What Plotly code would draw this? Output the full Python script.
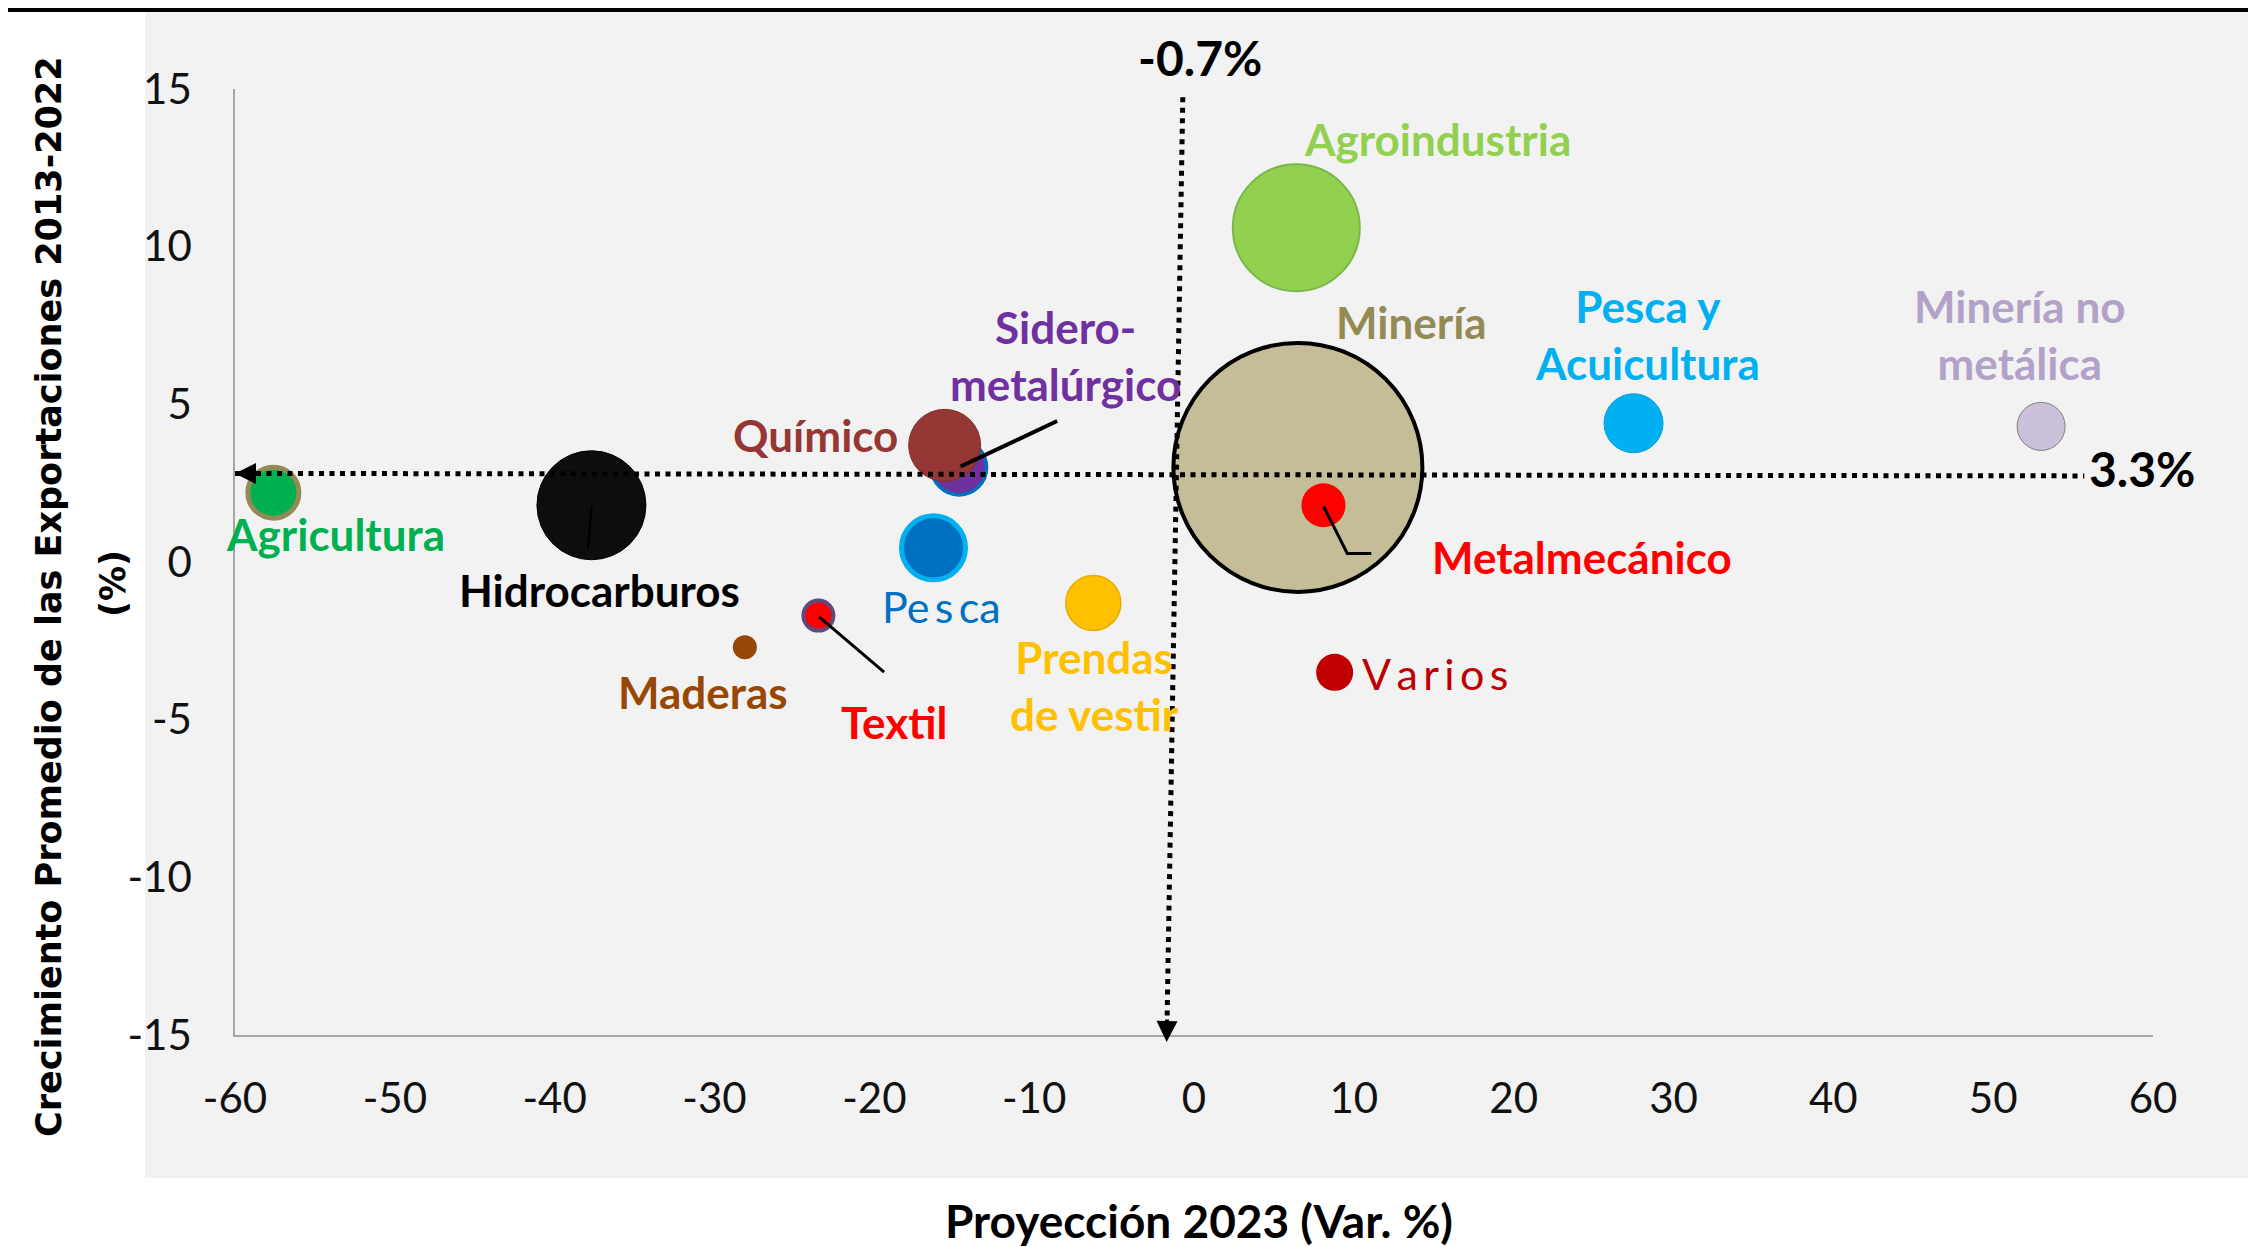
import plotly.graph_objects as go

# ---------------- data ----------------
sectores = ["Minería", "Agroindustria", "Hidrocarburos", "Agricultura", "Sidero-metalúrgico",
            "Químico", "Pesca", "Textil", "Maderas", "Prendas de vestir", "Metalmecánico",
            "Pesca y Acuicultura", "Minería no metálica", "Varios"]
proyeccion_2023 = [6.5, 6.4, -37.7, -57.6, -14.7, -15.6, -16.3, -23.5, -28.1, -6.3, 8.1, 27.5, 53.0, 8.8]
crecimiento_2013_2022 = [3.0, 10.6, 1.8, 2.2, 3.0, 3.7, 0.45, -1.7, -2.7, -1.3, 1.8, 4.4, 4.3, -3.5]
diametro_burbuja = [249, 127, 109, 51, 55, 72, 64, 30, 24, 55, 44, 59, 48, 37]
color_relleno = ["#c4bd97", "#92d050", "#0d0d0d", "#00b050", "#7030a0", "#953735", "#0070c0",
                 "#ff0000", "#974706", "#ffc000", "#ff0000", "#00b0f0", "#ccc1da", "#c00000"]
color_borde = ["#000000", "#7ab648", "#000000", "#948a54", "#0070c0", "#7f2f2d", "#00b0f0",
               "#604a7b", "#974706", "#e6ad00", "#ff0000", "#0a9fd8", "#7f7f7f", "#c00000"]
grosor_borde = [4, 2, 1, 5, 3.5, 1, 5, 4, 0, 1.5, 0, 1, 1, 0]

x_ticks = [-60, -50, -40, -30, -20, -10, 0, 10, 20, 30, 40, 50, 60]
x_tick_text = ["-60", "-50", "-40", "-30", "-20", "-10", "0", "10", "20", "30", "40", "50", "60"]
y_ticks = [-15, -10, -5, 0, 5, 10, 15]
y_tick_text = ["-15", "-10", "-5", "0", "5", "10", "15"]

etiquetas = ["Agroindustria", "Minería", "Pesca y<br>Acuicultura", "Minería no<br>metálica",
             "Metalmecánico", "V\u2009a\u2009r\u2009i\u2009o\u2009s", "Prendas<br>de vestir", "Textil",
             "Maderas", "Pe\u2009s\u2009ca", "Hidrocarburos", "Agricultura", "Químico",
             "Sidero-<br>metalúrgico"]
etiqueta_x = [15.25, 13.6, 28.4, 51.7, 24.3, 15.1, -6.25, -18.8, -30.7, -15.8, -37.2, -53.7, -23.7, -8.06]
etiqueta_y = [13.4, 7.6, 7.2, 7.2, 0.16, -3.55, -3.93, -5.07, -4.12, -1.41, -0.89, 0.89, 4.03, 6.55]
etiqueta_color = ["#92d050", "#948a54", "#00b0f0", "#b3a2c7", "#ff0000", "#c00000", "#ffc000",
                  "#ff0000", "#974706", "#0070c0", "#000000", "#00b050", "#953735", "#7030a0"]
etiqueta_negrita = [True, True, True, True, True, False, True, True, True, False, True, True, True, True]

# reference lines (average growth 3.3 %, total projection -0.7 %)
ref_crecimiento_texto = "3.3%"
ref_proyeccion_texto = "-0.7%"
linea_h_x = [-60, 55.7]
linea_h_y = [2.81, 2.73]
linea_v_x = [-0.70, -1.70]
linea_v_y = [14.74, -15.0]

# leader lines
guia_sidero = [(-8.56, 4.47), (-14.6, 3.03)]
guia_textil = [(-23.45, -1.74), (-19.39, -3.49)]
guia_hidro = [(-37.68, 1.78), (-37.93, 0.40)]
guia_metal = [(8.11, 1.76), (9.59, 0.27), (11.09, 0.27)]

FONT = "Lato"
# the page body has an 8px margin: the figure is drawn 8px smaller and offset
PW = 1918.0   # plot area width (px)
PH = 946.0    # plot area height (px)

fig = go.Figure()
fig.add_trace(go.Scatter(
    x=proyeccion_2023, y=crecimiento_2013_2022, mode="markers", text=sectores,
    hoverinfo="text+x+y",
    marker=dict(size=diametro_burbuja, sizemode="diameter", color=color_relleno, opacity=1,
                line=dict(color=color_borde, width=grosor_borde)),
    cliponaxis=False, showlegend=False,
))

DOT = dict(color="#000000", width=5, dash="5px,5.5px")

shapes = []
shapes.append(dict(type="rect", xref="paper", yref="paper", x0=-90 / PW, x1=2013 / PW, y0=-143 / PH, y1=1023 / PH,
                   fillcolor="#f2f2f2", line=dict(width=0), layer="below"))
shapes.append(dict(type="line", xref="paper", yref="paper", x0=-235 / PW, x1=2013 / PW, y0=1025 / PH, y1=1025 / PH,
                   line=dict(color="#000000", width=4), layer="above"))
shapes.append(dict(type="line", xref="x", yref="y", x0=linea_h_x[0], x1=linea_h_x[1],
                   y0=linea_h_y[0], y1=linea_h_y[1], line=DOT, layer="above"))
shapes.append(dict(type="line", xref="x", yref="y", x0=linea_v_x[0], x1=linea_v_x[1],
                   y0=linea_v_y[0], y1=linea_v_y[1], line=DOT, layer="above"))
for pts, w in [(guia_sidero, 4), (guia_textil, 3), (guia_hidro, 2)]:
    shapes.append(dict(type="line", xref="x", yref="y", x0=pts[0][0], y0=pts[0][1], x1=pts[1][0], y1=pts[1][1],
                       line=dict(color="#000000", width=w), layer="above"))
path = "M {} {} L {} {} L {} {}".format(*[v for p in guia_metal for v in p])
shapes.append(dict(type="path", xref="x", yref="y", path=path, line=dict(color="#000000", width=3),
                   layer="above"))

annotations = []
for t, x, y, c, b in zip(etiquetas, etiqueta_x, etiqueta_y, etiqueta_color, etiqueta_negrita):
    annotations.append(dict(x=x, y=y, xref="x", yref="y", text=("<b>%s</b>" % t) if b else t,
                            showarrow=False, xanchor="center", yanchor="middle", align="center",
                            font=dict(family=FONT, size=44 if b else 43, color=c)))
annotations.append(dict(x=59.3, y=2.96, xref="x", yref="y", text="<b>%s</b>" % ref_crecimiento_texto,
                        showarrow=False, xanchor="center", yanchor="middle",
                        font=dict(family=FONT, size=48, color="#000000")))
annotations.append(dict(x=0.36, y=1.0338, xref="x", yref="paper", text="<b>%s</b>" % ref_proyeccion_texto,
                        showarrow=False, xanchor="center", yanchor="middle",
                        font=dict(family=FONT, size=48, color="#000000")))
annotations.append(dict(x=-60, y=linea_h_y[0], xref="x", yref="y", ax=24, ay=0, axref="pixel", ayref="pixel",
                        showarrow=True, arrowhead=2, arrowsize=1.05, arrowwidth=4, arrowcolor="#000000",
                        standoff=0, text=""))
annotations.append(dict(x=-1.71, y=-0.0074, xref="x", yref="paper", ax=0.4, ay=-24, axref="pixel", ayref="pixel",
                        showarrow=True, arrowhead=2, arrowsize=1.05, arrowwidth=4, arrowcolor="#000000",
                        standoff=0, text=""))
annotations.append(dict(x=(49 - 235) / PW, y=(1035 - 597) / PH, xref="paper", yref="paper",
                        text="<b>Crecimiento Promedio de las Exportaciones 2013-2022</b>", textangle=-90,
                        showarrow=False, xanchor="center", yanchor="middle",
                        font=dict(family="DejaVu Sans", size=35, color="#000000")))
annotations.append(dict(x=(113 - 235) / PW, y=(1035 - 583) / PH, xref="paper", yref="paper",
                        text="<b>(%)</b>", textangle=-90,
                        showarrow=False, xanchor="center", yanchor="middle",
                        font=dict(family="DejaVu Sans", size=35, color="#000000")))
annotations.append(dict(x=(1199 - 235) / PW, y=(1035 - 1220) / PH, xref="paper", yref="paper",
                        text="<b>Proyección 2023 (Var. %)</b>",
                        showarrow=False, xanchor="center", yanchor="middle",
                        font=dict(family=FONT, size=46, color="#000000")))

axis_common = dict(showline=True, linecolor="#a6a6a6", linewidth=1.5, showgrid=False, zeroline=False,
                   ticks="", tickfont=dict(family=FONT, size=42, color="#111111"), fixedrange=True)

fig.update_layout(
    width=2248, height=1239,
    margin=dict(l=227, r=103, t=81, b=212),
    paper_bgcolor="#ffffff", plot_bgcolor="#f2f2f2",
    xaxis=dict(range=[-60, 60], tickmode="array", tickvals=x_ticks, ticktext=x_tick_text,
               ticklabelstandoff=26, **axis_common),
    yaxis=dict(range=[-15, 15], tickmode="array", tickvals=y_ticks, ticktext=y_tick_text,
               ticklabelstandoff=33, **axis_common),
    shapes=shapes, annotations=annotations, showlegend=False,
)

fig.write_html("out.html")
